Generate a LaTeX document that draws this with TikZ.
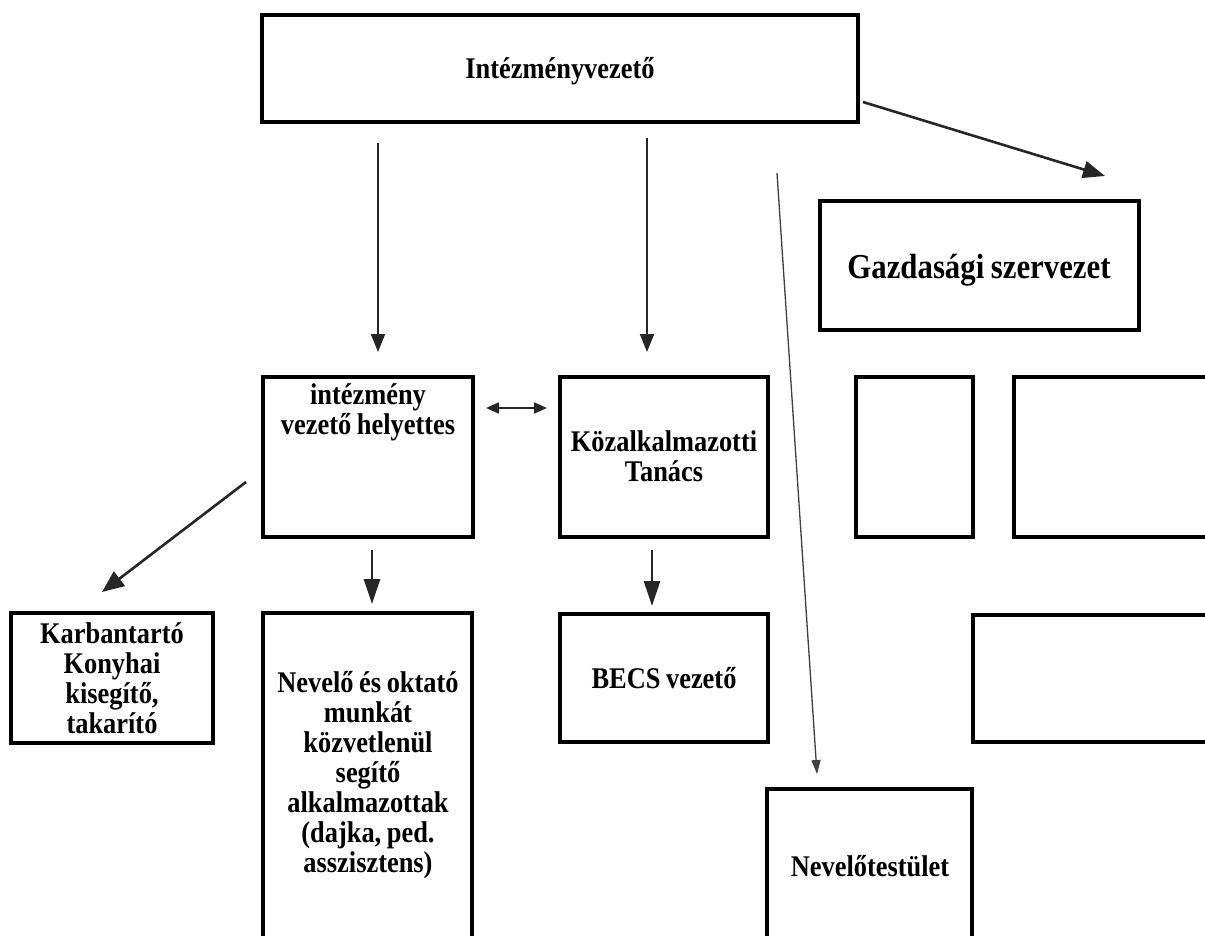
\documentclass[tikz,border=0pt]{standalone}
\usepackage{fontspec}
\setmainfont{Liberation Serif}[FakeStretch=0.88,WordSpace=0.85]
\usetikzlibrary{arrows.meta,fit}
\begin{document}
\begin{tikzpicture}[x=1pt,y=-1pt,
  box/.style={draw=black,line width=3.4pt,inner sep=0pt,outer sep=0pt,rectangle},
  txt/.style={font=\bfseries\fontsize{30}{30}\selectfont,align=flush center,anchor=base,inner sep=0pt},
  arr/.style={draw=black!85,line width=2pt,-{Triangle[length=18pt,width=14pt]}},
  thinarr/.style={draw=black!75,line width=1.3pt,-{Triangle[length=14pt,width=9pt]}},
  darr/.style={draw=black!85,line width=2.2pt,{Triangle[length=13pt,width=11pt]}-{Triangle[length=13pt,width=11pt]}}
]
\useasboundingbox (0,0) rectangle (1205,936);
\clip (0,0) rectangle (1205,936);
\fill[white] (0,0) rectangle (1205,936);

% boxes
\node[box,fit={(262,15) (858,122)}] (top) {};
\node[box,fit={(820,201) (1139,330)}] (gaz) {};
\node[box,fit={(263,377) (473,537)}] (hely) {};
\node[box,fit={(560,377) (768,537)}] (koz) {};
\node[box,fit={(856,377) (973,537)}] (sm) {};
\node[box,fit={(1014,377) (1240,537)}] (rbig) {};
\node[box,fit={(11,613) (213,743)}] (karb) {};
\node[box,fit={(263,613) (472,960)}] (nev) {};
\node[box,fit={(560,614) (768,742)}] (becs) {};
\node[box,fit={(973,615) (1240,742)}] (rthree) {};
\node[box,fit={(767,789) (972,960)}] (nt) {};

% texts
\node[txt] (topT) at (560,79) {Intézményvezető};
\node[txt,font=\bfseries\fontsize{35}{36}\selectfont] (gazT) at (979,278) {Gazdasági szervezet};
\node[txt,text width=205pt] (helyT) at (368,404) {intézmény\\vezető helyettes};
\node[txt,text width=205pt] (kozT) at (664,451) {Közalkalmazotti\\Tanács};
\node[txt,text width=200pt] (karbT) at (112,643) {Karbantartó\\Konyhai\\kisegítő,\\takarító};
\node[txt,text width=205pt] (nevT) at (368,692) {Nevelő és oktató\\munkát\\közvetlenül\\segítő\\alkalmazottak\\(dajka, ped.\\asszisztens)};
\node[txt] (becsT) at (664,688) {BECS vezető};
\node[txt] (ntT) at (870,876) {Nevelőtestület};

% connector end points
\coordinate (a1s) at (378,143); \coordinate (a1e) at (378,352);
\coordinate (a2s) at (647,138); \coordinate (a2e) at (647,352);
\coordinate (a3s) at (777,173); \coordinate (a3e) at (817,774);
\coordinate (a4s) at (863,102); \coordinate (a4e) at (1105,176);
\coordinate (a5s) at (486,408); \coordinate (a5e) at (547,408);
\coordinate (a6s) at (246,482); \coordinate (a6e) at (102,592);
\coordinate (a7s) at (372,550); \coordinate (a7e) at (372,604);
\coordinate (a8s) at (652,550); \coordinate (a8e) at (652,606);

\draw[arr] (a1s) -- (a1e);
\draw[arr] (a2s) -- (a2e);
\draw[thinarr] (a3s) -- (a3e);
\draw[arr,line width=2.6pt,-{Triangle[length=22pt,width=17pt]}] (a4s) -- (a4e);
\draw[darr] (a5s) -- (a5e);
\draw[arr,line width=2.6pt,-{Triangle[length=22pt,width=18pt]}] (a6s) -- (a6e);
\draw[arr,line width=2.6pt,-{Triangle[length=25pt,width=16pt]}] (a7s) -- (a7e);
\draw[arr,line width=2.6pt,-{Triangle[length=25pt,width=16pt]}] (a8s) -- (a8e);
\end{tikzpicture}
\end{document}
